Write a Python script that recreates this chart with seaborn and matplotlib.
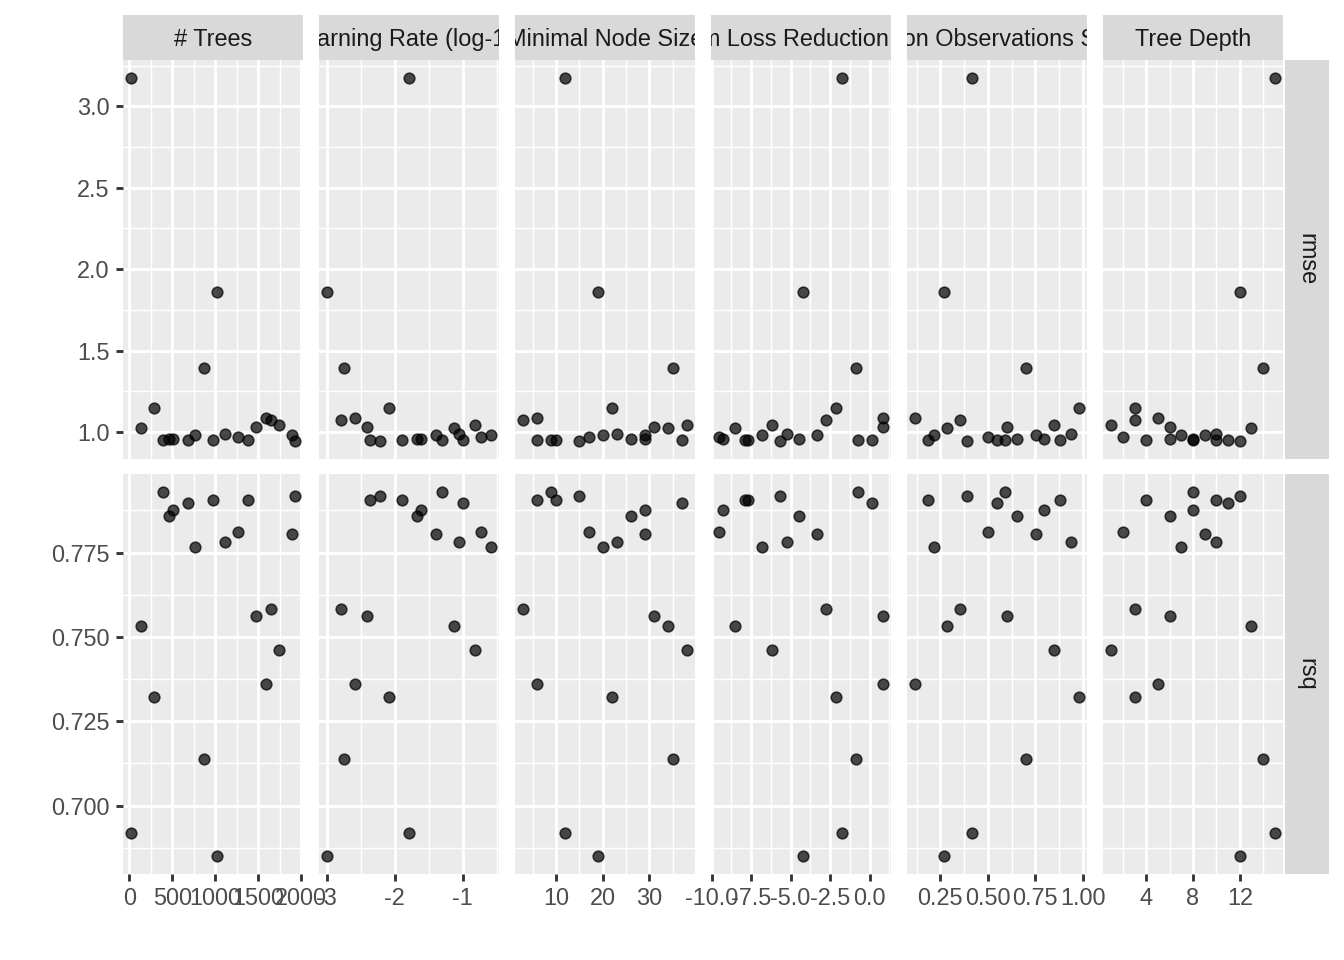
import numpy as np
import pandas as pd
import matplotlib
matplotlib.use("Agg")
import matplotlib.pyplot as plt
import seaborn as sns

# ---- data: 20 tuning candidates ----
trees = [20, 1020, 870, 287, 140, 390, 460, 512, 681, 766, 970, 1116, 1270, 1386, 1474, 1592, 1650, 1742, 1890, 1928]
learn_rate_log10 = [-1.79, -2.996, -2.751, -2.088, -1.132, -1.297, -1.673, -1.615, -0.995, -0.584,
                    -2.366, -1.06, -0.722, -1.887, -2.41, -2.586, -2.79, -0.824, -1.39, -2.215]
min_n = [12, 19, 35, 22, 34, 9, 26, 29, 37, 20, 6, 23, 17, 10, 31, 6, 3, 38, 29, 15]
loss_reduction_log10 = [-1.73, -4.20, -0.87, -2.15, -8.51, -0.70, -4.49, -9.30, 0.15, -6.84,
                        -7.87, -5.25, -9.52, -7.68, 0.84, 0.82, -2.75, -6.16, -3.34, -5.66]
sample_size = [0.417, 0.268, 0.703, 0.979, 0.283, 0.590, 0.655, 0.798, 0.547, 0.215,
               0.184, 0.937, 0.499, 0.880, 0.599, 0.118, 0.353, 0.850, 0.754, 0.390]
tree_depth = [15, 12, 14, 3, 13, 8, 6, 8, 11, 7, 4, 10, 2, 10, 6, 5, 3, 1, 9, 12]
rmse = [3.174, 1.857, 1.391, 1.149, 1.026, 0.949, 0.959, 0.955, 0.949, 0.982,
        0.953, 0.988, 0.971, 0.949, 1.029, 1.084, 1.075, 1.045, 0.982, 0.945]
rsq = [0.6918, 0.6851, 0.7138, 0.7323, 0.7532, 0.7929, 0.7858, 0.7875, 0.7896, 0.7766,
       0.7905, 0.7780, 0.7810, 0.7905, 0.7561, 0.7361, 0.7582, 0.7462, 0.7804, 0.7917]

param_names = ["# Trees", "Learning Rate (log-10)", "Minimal Node Size",
               "Minimum Loss Reduction (log-10)", "Proportion Observations Sampled", "Tree Depth"]
param_values = [trees, learn_rate_log10, min_n, loss_reduction_log10, sample_size, tree_depth]
metric_names = ["rmse", "rsq"]
metric_values = [rmse, rsq]

x_ticks = [[0, 500, 1000, 1500, 2000], [-3, -2, -1], [10, 20, 30],
           [-10.0, -7.5, -5.0, -2.5, 0.0], [0.25, 0.50, 0.75, 1.00], [4, 8, 12]]
x_labels = [["0", "500", "1000", "1500", "2000"], ["-3", "-2", "-1"], ["10", "20", "30"],
            ["-10.0", "-7.5", "-5.0", "-2.5", "0.0"], ["0.25", "0.50", "0.75", "1.00"], ["4", "8", "12"]]
y_ticks = [[1.0, 1.5, 2.0, 2.5, 3.0], [0.700, 0.725, 0.750, 0.775]]
y_labels = [["1.0", "1.5", "2.0", "2.5", "3.0"], ["0.700", "0.725", "0.750", "0.775"]]

rows = []
for pn, pv in zip(param_names, param_values):
    for mn, mv in zip(metric_names, metric_values):
        for v, m in zip(pv, mv):
            rows.append({"name": pn, "value": v, ".metric": mn, "mean": m})
df = pd.DataFrame(rows)

# ---- style ----
plt.rcParams["font.family"] = ["Liberation Sans", "DejaVu Sans"]
W, H = 1344, 960
fig = plt.figure(figsize=(7, 5), dpi=192)
fig.patch.set_facecolor("white")

def rect(x0, y0, w, h):
    return [x0 / W, 1 - (y0 + h) / H, w / W, h / H]

col_left = [123, 319, 515, 711, 907, 1103]
pw = 180
row_top = [60, 474]
ph = [399, 400]
strip_top, strip_h = 15, 45
rstrip_x, rstrip_w = 1285, 44

major_lw = 1.07
minor_lw = 0.53

def expand(vals):
    lo, hi = min(vals), max(vals)
    d = (hi - lo) * 0.05
    return lo - d, hi + d

def minor_breaks(maj, lims):
    step = maj[1] - maj[0]
    ext = [maj[0] - step] + list(maj) + [maj[-1] + step]
    mids = [(a + b) / 2 for a, b in zip(ext[:-1], ext[1:])]
    return [m for m in mids if lims[0] <= m <= lims[1]]

for r, mn in enumerate(metric_names):
    ylim = expand(metric_values[r])
    for c, pn in enumerate(param_names):
        ax = fig.add_axes(rect(col_left[c], row_top[r], pw, ph[r]))
        ax.set_facecolor("#EBEBEB")
        sub = df[(df["name"] == pn) & (df[".metric"] == mn)]
        sns.scatterplot(data=sub, x="value", y="mean", ax=ax, color="black",
                        alpha=0.7, s=16, edgecolor="black", linewidth=0.6, zorder=3,
                        legend=False)
        xlim = expand(param_values[c])
        ax.set_xlim(*xlim)
        ax.set_ylim(*ylim)
        ax.set_xticks(x_ticks[c])
        ax.set_xticks(minor_breaks(x_ticks[c], xlim), minor=True)
        ax.set_yticks(y_ticks[r])
        ax.set_yticks(minor_breaks(y_ticks[r], ylim), minor=True)
        ax.grid(which="major", color="white", linewidth=major_lw, zorder=0)
        ax.grid(which="minor", color="white", linewidth=minor_lw, zorder=0)
        ax.set_axisbelow(True)
        for s in ax.spines.values():
            s.set_visible(False)
        ax.set_xlabel("")
        ax.set_ylabel("")
        ax.tick_params(which="minor", length=0)
        ax.tick_params(which="major", length=2.75, width=major_lw, color="#333333",
                       labelcolor="#4D4D4D", labelsize=8.8, pad=2.2)
        if r == len(metric_names) - 1:
            ax.set_xticklabels(x_labels[c])
        else:
            ax.tick_params(axis="x", which="major", length=0, labelbottom=False)
        if c == 0:
            ax.set_yticklabels(y_labels[r])
        else:
            ax.tick_params(axis="y", which="major", length=0, labelleft=False)

        # top strips
        if r == 0:
            sax = fig.add_axes(rect(col_left[c], strip_top, pw, strip_h))
            sax.set_facecolor("#D9D9D9")
            sax.set_xticks([]); sax.set_yticks([])
            for s in sax.spines.values():
                s.set_visible(False)
            sax.text(0.5, 0.45, pn, ha="center", va="center", fontsize=8.8,
                     color="#1A1A1A", transform=sax.transAxes, clip_on=True)
    # right strip
    rax = fig.add_axes(rect(rstrip_x, row_top[r], rstrip_w, ph[r]))
    rax.set_facecolor("#D9D9D9")
    rax.set_xticks([]); rax.set_yticks([])
    for s in rax.spines.values():
        s.set_visible(False)
    rax.text(0.5, 0.5, mn, ha="center", va="center", rotation=-90, fontsize=8.8,
             color="#1A1A1A", transform=rax.transAxes, clip_on=True)

fig.savefig("out.png", dpi=192, facecolor="white")
